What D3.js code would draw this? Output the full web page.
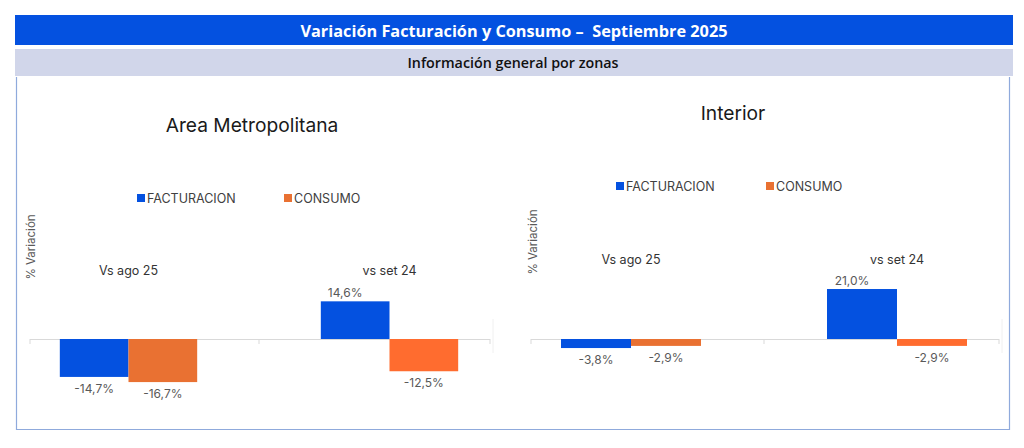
<!DOCTYPE html>
<html>
<head>
<meta charset="utf-8">
<script src="https://cdn.jsdelivr.net/npm/d3@7"></script>
<style>
  body { margin: 0; background: #fff; }
  svg { display: block; }
  text { white-space: pre; }
</style>
</head>
<body>
<script>
// data
var zonas = ["Area Metropolitana", "Interior"];
var categorias = ["Vs ago 25", "vs set 24"];
var series = ["FACTURACION", "CONSUMO"];
var facturacion = [[-14.7, 14.6], [-3.8, 21.0]];
var consumo = [[-16.7, -12.5], [-2.9, -2.9]];

var titulo = "Variación Facturación y Consumo –  Septiembre 2025";
var subtitulo = "Información general por zonas";

var w = 1024, h = 448;
var azul = "#0451E0";
var naranja = ["#E97132", "#FF6C2F"];

var svg = d3.select("body")
	.append("svg")
	.attr("width", w)
	.attr("height", h);

// header bands
svg.append("rect").attr("x", 15).attr("y", 15).attr("width", 998).attr("height", 30).attr("fill", "#0451E0");
svg.append("rect").attr("x", 15).attr("y", 49).attr("width", 998).attr("height", 27).attr("fill", "#D1D6EA");
svg.append("text").attr("x", 514).attr("y", 36.5)
	.attr("text-anchor", "middle")
	.attr("font-family", "Open Sans").attr("font-weight", "bold").attr("font-size", 16.3)
	.attr("fill", "#fff").text(titulo);
svg.append("text").attr("x", 513).attr("y", 67.5)
	.attr("text-anchor", "middle")
	.attr("font-family", "Open Sans").attr("font-weight", 600).attr("font-size", 14.3)
	.attr("fill", "#111").text(subtitulo);

// frame
svg.append("path")
	.attr("d", "M16.5,77 V429.5 H1009.5 V77")
	.attr("fill", "none").attr("stroke", "#8FAADC").attr("stroke-width", 1.2);

// layout of each panel (positions only)
var paneles = [
	{ titleX: 252, titleY: 132, legY: 198, legX: [137, 284], ylabX: 35, ylabY: 247, catY: 275,
	  zero: 339, axis: [30, 490], band: [-2, 520], k: 2.58 },
	{ titleX: 733, titleY: 120, legY: 186, legX: [616, 766], ylabX: 537, ylabY: 242, catY: 264,
	  zero: 339, axis: [531, 999], band: [498, 1030], k: 2.38 }
];

var font = "Inter";

function pct(v){
	return v.toFixed(1).replace(".", ",") + "%";
}

paneles.forEach(function(p, z){
	var g = svg.append("g");

	var x0 = d3.scaleBand().domain(categorias).range(p.band);
	var x1 = d3.scaleBand().domain(series).range([0, x0.bandwidth()]).paddingOuter(0.9);
	var y = d3.scaleLinear().domain([-20, 20]).range([p.zero + 20 * p.k, p.zero - 20 * p.k]);

	// title
	g.append("text").attr("x", p.titleX).attr("y", p.titleY)
		.attr("text-anchor", "middle")
		.attr("font-family", font).attr("font-size", 19.2)
		.attr("fill", "#1a1a1a").text(zonas[z]);

	// legend
	series.forEach(function(s, i){
		g.append("rect").attr("x", p.legX[i]).attr("y", p.legY - 4)
			.attr("width", 8).attr("height", 8)
			.attr("fill", i == 0 ? azul : naranja[0]);
		g.append("text").attr("x", p.legX[i] + 10).attr("y", p.legY + 4.5)
			.attr("font-family", font).attr("font-size", 12.5)
			.attr("fill", "#404040").text(s);
	});

	// y axis title
	g.append("text")
		.attr("transform", "translate(" + p.ylabX + "," + p.ylabY + ") rotate(-90)")
		.attr("text-anchor", "middle")
		.attr("font-family", font).attr("font-size", 11.5)
		.attr("fill", "#595959").text("% Variación");

	// category labels
	g.selectAll(".cat").data(categorias).enter().append("text")
		.attr("x", function(d){ return x0(d) + x0.bandwidth() / 2; })
		.attr("y", p.catY)
		.attr("text-anchor", "middle")
		.attr("font-family", font).attr("font-size", 12.5)
		.attr("fill", "#333").text(function(d){ return d; });

	// zero axis and ticks
	g.append("line").attr("x1", p.axis[0]).attr("x2", p.axis[1])
		.attr("y1", y(0) + 0.5).attr("y2", y(0) + 0.5)
		.attr("stroke", "#D9D9D9").attr("stroke-width", 1.2);
	var ticks = [p.axis[0], x0(categorias[1]), p.axis[1]];
	ticks.forEach(function(t){
		g.append("line").attr("x1", t).attr("x2", t)
			.attr("y1", y(0)).attr("y2", y(0) + 5)
			.attr("stroke", "#D9D9D9");
	});
	g.append("line").attr("x1", p.axis[1] + 3).attr("x2", p.axis[1] + 3)
		.attr("y1", y(0) - 20).attr("y2", y(0) + 14)
		.attr("stroke", "#F0F0F0");

	// bars
	var rows = [];
	categorias.forEach(function(c, ci){
		rows.push({ cat: c, ci: ci, serie: series[0], v: facturacion[z][ci] });
		rows.push({ cat: c, ci: ci, serie: series[1], v: consumo[z][ci] });
	});

	g.selectAll(".bar").data(rows).enter().append("rect")
		.attr("x", function(d){ return x0(d.cat) + x1(d.serie); })
		.attr("width", x1.bandwidth())
		.attr("y", function(d){ return y(Math.max(0, d.v)); })
		.attr("height", function(d){ return Math.abs(y(d.v) - y(0)); })
		.attr("fill", function(d){ return d.serie == series[0] ? azul : naranja[d.ci]; });

	g.selectAll(".lbl").data(rows).enter().append("text")
		.attr("x", function(d){ return x0(d.cat) + x1(d.serie) + x1.bandwidth() / 2 + (d.v > 0 ? -10 : 0); })
		.attr("y", function(d){ return d.v > 0 ? y(d.v) - 4 : y(d.v) + 16; })
		.attr("text-anchor", "middle")
		.attr("font-family", font).attr("font-size", 12)
		.attr("fill", "#595959")
		.text(function(d){ return pct(d.v); });
});
</script>
</body>
</html>
